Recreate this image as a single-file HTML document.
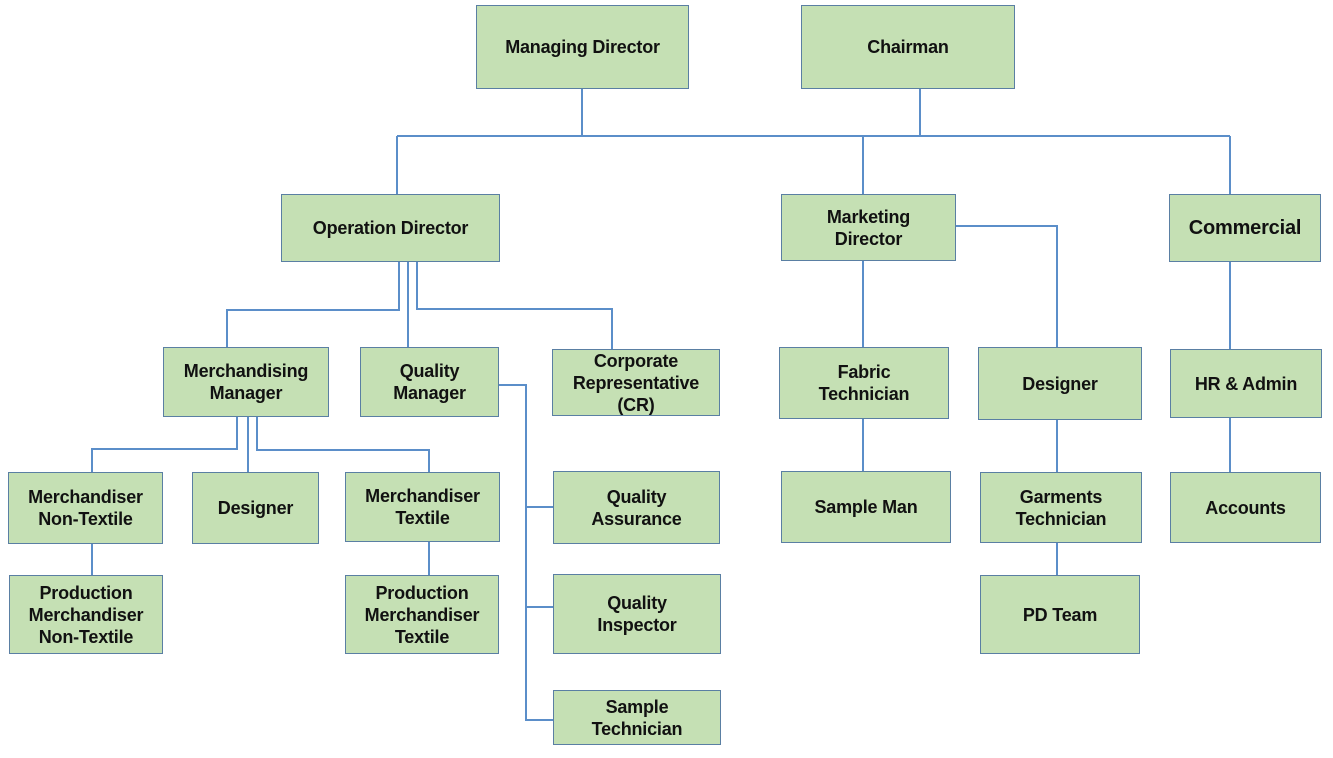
<!DOCTYPE html>
<html><head><style>
body{margin:0;width:1333px;height:758px;background:#fff;position:relative;overflow:hidden;font-family:"Liberation Sans",Arial,sans-serif}
.b{position:absolute;box-sizing:border-box;background:#c5e0b4;border:1px solid #5a7fa3;display:flex;align-items:center;justify-content:center;text-align:center;font-weight:bold;font-size:18px;line-height:22px;color:#111;letter-spacing:-0.2px}
svg{position:absolute;left:0;top:0}
</style></head><body>
<svg width="1333" height="758"><g stroke="#5b8ec9" stroke-width="2" fill="none">
<path d="M582 89V136M920 89V136M397 136H1230M397 136V194M863 136V194M1230 136V194"/>
<path d="M399 262V310H227V347M408 262V347M417 262V309H612V349"/>
<path d="M956 226H1057V347M863 261V347M1230 262V349M1230 418V472M863 419V471M1057 420V472M1057 543V575"/>
<path d="M237 417V449H92V472M248 417V472M257 417V450H429V472M92 544V575M429 542V575"/>
<path d="M499 385H526V720H553M526 507H553M526 607H553"/>
</g></svg>
<div class="b" style="left:476px;top:5px;width:213px;height:84px">Managing Director</div>
<div class="b" style="left:801px;top:5px;width:214px;height:84px">Chairman</div>
<div class="b" style="left:281px;top:194px;width:219px;height:68px">Operation Director</div>
<div class="b" style="left:781px;top:194px;width:175px;height:67px">Marketing<br>Director</div>
<div class="b" style="left:1169px;top:194px;width:152px;height:68px;font-size:20px">Commercial</div>
<div class="b" style="left:163px;top:347px;width:166px;height:70px">Merchandising<br>Manager</div>
<div class="b" style="left:360px;top:347px;width:139px;height:70px">Quality<br>Manager</div>
<div class="b" style="left:552px;top:349px;width:168px;height:67px">Corporate<br>Representative<br>(CR)</div>
<div class="b" style="left:779px;top:347px;width:170px;height:72px">Fabric<br>Technician</div>
<div class="b" style="left:978px;top:347px;width:164px;height:73px">Designer</div>
<div class="b" style="left:1170px;top:349px;width:152px;height:69px">HR &amp; Admin</div>
<div class="b" style="left:8px;top:472px;width:155px;height:72px">Merchandiser<br>Non-Textile</div>
<div class="b" style="left:192px;top:472px;width:127px;height:72px">Designer</div>
<div class="b" style="left:345px;top:472px;width:155px;height:70px">Merchandiser<br>Textile</div>
<div class="b" style="left:9px;top:575px;width:154px;height:79px">Production<br>Merchandiser<br>Non-Textile</div>
<div class="b" style="left:345px;top:575px;width:154px;height:79px">Production<br>Merchandiser<br>Textile</div>
<div class="b" style="left:553px;top:471px;width:167px;height:73px">Quality<br>Assurance</div>
<div class="b" style="left:553px;top:574px;width:168px;height:80px">Quality<br>Inspector</div>
<div class="b" style="left:553px;top:690px;width:168px;height:55px">Sample<br>Technician</div>
<div class="b" style="left:781px;top:471px;width:170px;height:72px">Sample Man</div>
<div class="b" style="left:980px;top:472px;width:162px;height:71px">Garments<br>Technician</div>
<div class="b" style="left:980px;top:575px;width:160px;height:79px">PD Team</div>
<div class="b" style="left:1170px;top:472px;width:151px;height:71px">Accounts</div>
</body></html>
